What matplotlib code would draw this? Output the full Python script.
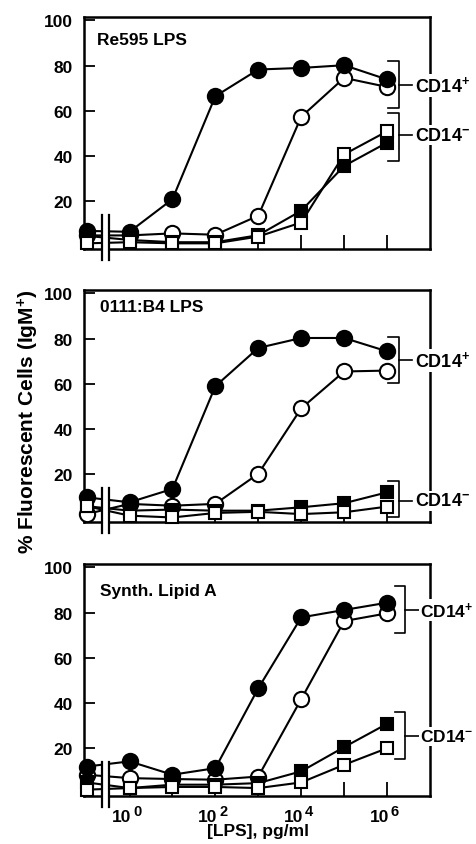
import matplotlib
matplotlib.use("Agg")
import matplotlib.pyplot as plt
import numpy as np

plt.rcParams['font.family'] = ['Liberation Sans', 'DejaVu Sans']
plt.rcParams['font.weight'] = 'bold'
plt.rcParams['mathtext.fontset'] = 'custom'
plt.rcParams['mathtext.rm'] = 'Liberation Sans:bold'
plt.rcParams['mathtext.bf'] = 'Liberation Sans:bold'
plt.rcParams['mathtext.it'] = 'Liberation Sans:bold'
plt.rcParams['mathtext.sf'] = 'Liberation Sans:bold'

# ---- data ----
conc = [0.1, 1, 10, 100, 1e3, 1e4, 1e5, 1e6]   # first value = no-LPS control
panel_titles = ["Re595 LPS", "0111:B4 LPS", "Synth. Lipid A"]

p1_filled_circle = [7.0, 6.6, 21.0, 66.5, 78.3, 79.0, 80.2, 73.9]
p1_open_circle   = [5.0, 5.0, 5.9, 5.3, 13.7, 57.4, 74.6, 70.6]
p1_filled_square = [4.8, 3.0, 2.0, 2.0, 5.1, 15.9, 35.7, 46.0]
p1_open_square   = [1.5, 2.0, 1.5, 1.5, 4.5, 10.7, 40.8, 51.0]

p2_filled_circle = [9.9, 7.7, 13.6, 59.0, 75.9, 80.3, 80.3, 74.4]
p2_open_circle   = [2.5, 7.0, 6.2, 7.0, 20.3, 49.2, 65.5, 65.9]
p2_filled_square = [6.0, 4.0, 4.5, 4.0, 4.0, 5.5, 7.3, 12.1]
p2_open_square   = [6.0, 1.8, 1.0, 3.0, 3.5, 2.5, 3.3, 5.8]

p3_filled_circle = [12.0, 14.3, 8.4, 11.3, 46.6, 77.9, 81.2, 84.4]
p3_open_circle   = [8.4, 6.9, 6.5, 6.2, 7.6, 41.8, 76.3, 79.7]
p3_filled_square = [5.0, 2.5, 4.0, 4.0, 4.7, 9.9, 20.6, 30.9]
p3_open_square   = [1.8, 2.5, 3.0, 3.0, 2.5, 5.0, 12.8, 20.1]

# bracket annotations (low, high, label y) for CD14+ and CD14-
brackets_plus  = [(61.2, 82.0, 71.4), (60.6, 80.7, 70.4), (71.2, 91.8, 81.2)]
brackets_minus = [(37.9, 59.0, 49.3), (1.0, 16.9, 8.4), (15.5, 35.9, 25.4)]

yticks = [20, 40, 60, 80, 100]
xticks = [1, 10, 100, 1e3, 1e4, 1e5, 1e6]
xlabel_ticks = [1, 100, 1e4, 1e6]
xlabel_exps = ['0', '2', '4', '6']

panels = [
    (p1_filled_circle, p1_open_circle, p1_filled_square, p1_open_square),
    (p2_filled_circle, p2_open_circle, p2_filled_square, p2_open_square),
    (p3_filled_circle, p3_open_circle, p3_filled_square, p3_open_square),
]

W, H = 477, 845
fig = plt.figure(figsize=(W / 100, H / 100), dpi=100)

rects_px = [(84, 18, 346, 232), (84, 291, 346, 232), (84, 565, 346, 232)]
# bracket x-geometry (log10 positions): vertical, end, dash end, text start
bx_geo = [(6.28, 6.03, 6.57, 6.66), (6.28, 6.03, 6.57, 6.66), (6.41, 6.18, 6.74, 6.77)]
cd_size = [13, 13, 12.5]
title_pos = [(0.038, 0.905), (0.046, 0.927), (0.046, 0.884)]

lw = 1.5
for i, (rp, series) in enumerate(zip(rects_px, panels)):
    l, t, w, h = rp
    ax = fig.add_axes([l / W, 1 - (t + h) / H, w / W, h / H])
    ax.set_xscale('log')
    ax.set_xlim(10 ** -1.06, 10 ** 7.0)
    ax.set_ylim(-1, 101.5)
    fc, oc, fs, os_ = series
    ax.plot(conc, oc, '-o', color='black', lw=lw, ms=11, mfc='white', mec='black', mew=1.5, zorder=5, clip_on=False)
    ax.plot(conc, fc, '-o', color='black', lw=lw, ms=11, mfc='black', mec='black', mew=1.5, zorder=6, clip_on=False)
    ax.plot(conc, fs, '-s', color='black', lw=lw, ms=8.5, mfc='black', mec='black', mew=1.5, zorder=5, clip_on=False)
    ax.plot(conc, os_, '-s', color='black', lw=lw, ms=8.5, mfc='white', mec='black', mew=1.5, zorder=6, clip_on=False)

    # axis break
    xb1, xb2 = 10 ** -0.65, 10 ** -0.47
    ax.fill_between([xb1, xb2], [-8, -8], [14, 14], color='white', zorder=7, clip_on=False, lw=0)
    for xb in (xb1, xb2):
        ax.plot([xb, xb], [-6, 14], color='black', lw=1.6, zorder=8, clip_on=False)

    for s in ax.spines.values():
        s.set_linewidth(1.8)

    ax.set_yticks(yticks)
    ax.set_yticklabels([str(v) for v in yticks])
    ax.tick_params(axis='y', direction='in', length=8, width=1.3, pad=8, labelsize=12.5)
    ax.set_xticks(xticks)
    ax.minorticks_off()
    ax.set_xticklabels([''] * len(xticks))
    ax.tick_params(axis='x', direction='in', length=10, width=1.3)
    if i == 2:
        for xt, ex in zip(xlabel_ticks, xlabel_exps):
            ax.annotate('10', xy=(xt, 0), xycoords=('data', 'axes fraction'),
                        xytext=(1.5, -9.5), textcoords='offset points',
                        ha='right', va='top', fontsize=12.5, fontweight='bold',
                        annotation_clip=False)
            ax.annotate(ex, xy=(xt, 0), xycoords=('data', 'axes fraction'),
                        xytext=(2.8, -6.0), textcoords='offset points',
                        ha='left', va='top', fontsize=10.5, fontweight='bold',
                        annotation_clip=False)

    ax.text(title_pos[i][0], title_pos[i][1], panel_titles[i], transform=ax.transAxes,
            fontsize=12.5, fontweight='bold', ha='left', va='center')

    vx, ex_, dx, tx = bx_geo[i]
    for (lo, hi, my), lab in ((brackets_plus[i], r'$\mathbf{CD14^{+}}$'),
                              (brackets_minus[i], r'$\mathbf{CD14^{-}}$')):
        ax.plot([10 ** ex_, 10 ** vx, 10 ** vx, 10 ** ex_], [hi, hi, lo, lo],
                color='black', lw=1.2, clip_on=False, zorder=4)
        ax.plot([10 ** vx, 10 ** dx], [my, my], color='black', lw=1.2, clip_on=False, zorder=4)
        ax.text(10 ** tx, my, lab, fontsize=cd_size[i], ha='left', va='center', zorder=9,
                bbox=dict(facecolor='white', edgecolor='none', pad=1.0), clip_on=False)

fig.text(28 / W, 1 - 422 / H, r'% Fluorescent Cells (IgM$^{\mathbf{+}}$)', rotation=90,
         fontsize=15, fontweight='bold', ha='center', va='center')
fig.text(258 / W, 1 - 832 / H, '[LPS], pg/ml', fontsize=12.5, fontweight='bold',
         ha='center', va='center')

fig.savefig('out.png', dpi=100)
